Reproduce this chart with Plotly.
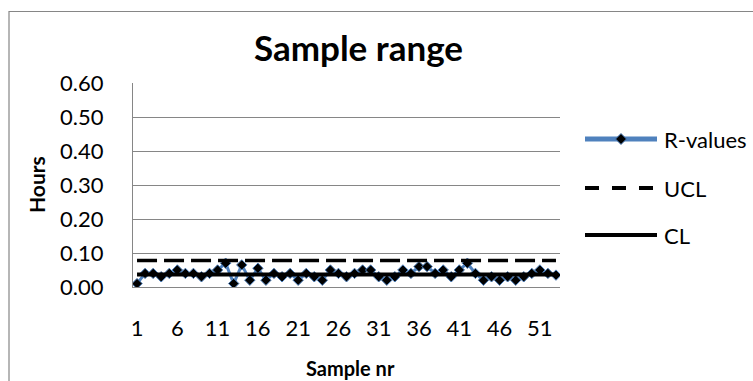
import plotly.graph_objects as go

# Sample range (R) chart data
sample_nr = list(range(1, 54))
r_values = [
    0.01, 0.04, 0.04, 0.03, 0.04, 0.05, 0.04, 0.04, 0.03, 0.04,
    0.05, 0.07, 0.01, 0.065, 0.02, 0.055, 0.02, 0.04, 0.03, 0.04,
    0.02, 0.04, 0.03, 0.02, 0.05, 0.04, 0.03, 0.04, 0.05, 0.05,
    0.03, 0.02, 0.03, 0.05, 0.04, 0.06, 0.06, 0.04, 0.05, 0.03,
    0.05, 0.07, 0.04, 0.02, 0.03, 0.02, 0.03, 0.02, 0.03, 0.04,
    0.05, 0.04, 0.035,
]
ucl_value = 0.078
cl_value = 0.037
ucl = [ucl_value] * len(sample_nr)
cl = [cl_value] * len(sample_nr)
x_tick_labels = [str(v) for v in range(1, 54, 5)]
y_ticks = [0.0, 0.1, 0.2, 0.3, 0.4, 0.5, 0.6]

W, H = 753, 381
L, R, T, B = 133, 560, 83, 287
BLUE = "#4F81BD"
GRID = "#868686"
FONT = "Lato"


def px(x):
    return (x - L) / (R - L)


def py(y):
    return (B - y) / (B - T)


fig = go.Figure()
fig.add_trace(go.Scatter(
    x=sample_nr, y=r_values, mode="lines+markers", name="R-values",
    line=dict(color=BLUE, width=3),
    marker=dict(symbol="diamond", size=8, color="black",
                line=dict(color=BLUE, width=1)),
    showlegend=False,
))
fig.add_trace(go.Scatter(
    x=sample_nr, y=ucl, mode="lines", name="UCL",
    line=dict(color="black", width=3.5, dash="20px,7px"), showlegend=False,
))
fig.add_trace(go.Scatter(
    x=sample_nr, y=cl, mode="lines", name="CL",
    line=dict(color="black", width=4), showlegend=False,
))

shapes = [
    # chart area border
    dict(type="rect", xref="paper", yref="paper",
         x0=px(9), x1=px(765), y0=py(395), y1=py(11.5),
         line=dict(color=GRID, width=1.2), fillcolor="rgba(0,0,0,0)",
         layer="below"),
]
annotations = []

# legend entries
legend_items = [
    ("R-values", 139, dict(color=BLUE, width=5), True),
    ("UCL", 188, dict(color="black", width=4, dash="14px,13px"), False),
    ("CL", 235, dict(color="black", width=4), False),
]
for label, yy, line, diamond in legend_items:
    shapes.append(dict(type="line", xref="paper", yref="paper",
                       x0=px(585), x1=px(657), y0=py(yy), y1=py(yy), line=line))
    if diamond:
        cx, cy, h = 621, yy, 5.5
        path = "M {} {} L {} {} L {} {} L {} {} Z".format(
            px(cx), py(cy - h), px(cx + h), py(cy), px(cx), py(cy + h),
            px(cx - h), py(cy))
        shapes.append(dict(type="path", xref="paper", yref="paper", path=path,
                           fillcolor="black", line=dict(color=BLUE, width=1)))
    annotations.append(dict(text=label, xref="paper", yref="paper",
                            x=px(662), y=py(yy), xanchor="left", yanchor="middle",
                            showarrow=False,
                            font=dict(family=FONT, size=22, color="black")))

annotations.append(dict(text="<b>Sample range</b>", xref="paper", yref="paper",
                        x=px(358), y=py(47), xanchor="center", yanchor="middle",
                        showarrow=False,
                        font=dict(family=FONT, size=35, color="black")))
annotations.append(dict(text="<b>Hours</b>", xref="paper", yref="paper",
                        x=px(36), y=py(185), xanchor="center", yanchor="middle",
                        textangle=-90, showarrow=False,
                        font=dict(family=FONT, size=21, color="black")))
annotations.append(dict(text="<b>Sample nr</b>", xref="paper", yref="paper",
                        x=px(350), y=py(368), xanchor="center", yanchor="middle",
                        showarrow=False,
                        font=dict(family=FONT, size=20, color="black")))

fig.update_layout(
    width=W, height=H,
    margin=dict(l=L, r=W - R, t=T, b=H - B, pad=0),
    paper_bgcolor="white", plot_bgcolor="white",
    showlegend=False,
    shapes=shapes, annotations=annotations,
    font=dict(family=FONT, size=22, color="black"),
    xaxis=dict(
        range=[0.5, 53.5], tickmode="array",
        tickvals=[int(t) for t in x_tick_labels], ticktext=x_tick_labels,
        showgrid=False, zeroline=False, showline=True, linecolor=GRID,
        linewidth=1, ticks="", ticklabelstandoff=22,
        tickfont=dict(family=FONT, size=22),
    ),
    yaxis=dict(
        range=[0, 0.6], tickmode="array", tickvals=y_ticks,
        tickformat=".2f", showgrid=True, gridcolor=GRID, gridwidth=1,
        zeroline=False, showline=True, linecolor=GRID, linewidth=1,
        ticks="", ticklabelstandoff=24,
        tickfont=dict(family=FONT, size=22),
    ),
)

fig.write_html("out.html")
